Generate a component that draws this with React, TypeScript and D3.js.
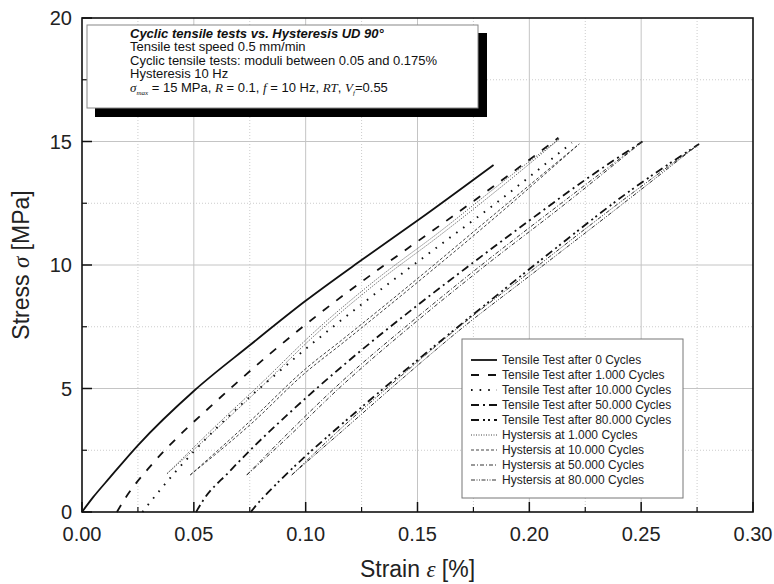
import * as d3 from "d3";

// axis ticks
const xTicks = [0, 0.05, 0.1, 0.15, 0.2, 0.25, 0.3];
const xTickLabels = ["0.00", "0.05", "0.10", "0.15", "0.20", "0.25", "0.30"];
const xMinor = [0.025, 0.075, 0.125, 0.175, 0.225, 0.275];
const yTicks = [0, 5, 10, 15, 20];
const yMinor = [2.5, 7.5, 12.5, 17.5];

// tensile tests (strain %, stress MPa)
const t0Strain = [0, 0.005, 0.0125, 0.025, 0.05, 0.075, 0.1, 0.125, 0.15, 0.184];
const t0Stress = [0, 0.6, 1.4, 2.7, 4.9, 6.75, 8.55, 10.2, 11.8, 14.05];

const t1Strain = [0.0156, 0.0193, 0.031, 0.043, 0.056, 0.07, 0.084, 0.105, 0.1345, 0.16, 0.185, 0.213];
const t1Stress = [0, 0.55, 1.9, 3.05, 4.15, 5.3, 6.4, 7.95, 9.95, 11.6, 13.25, 15.15];

const t10Strain = [0.027, 0.035, 0.05, 0.07, 0.087, 0.1, 0.127, 0.157, 0.185, 0.219];
const t10Stress = [0, 0.9, 2.45, 4.25, 5.6, 6.6, 8.55, 10.6, 12.5, 14.95];

const t50Strain = [0.051, 0.0543, 0.0655, 0.0774, 0.0938, 0.117, 0.149, 0.172, 0.2, 0.225, 0.2506];
const t50Stress = [0, 0.49, 1.6, 2.7, 4.1, 5.95, 8.3, 9.9, 11.8, 13.45, 15.0];

const t80Strain = [0.0755, 0.0774, 0.0833, 0.0893, 0.101, 0.111, 0.127, 0.152, 0.179, 0.21, 0.245, 0.2759];
const t80Stress = [0, 0.22, 0.8, 1.35, 2.35, 3.15, 4.4, 6.3, 8.3, 10.55, 13.0, 14.9];

// hysteresis loops: loading (up) and unloading (down) branches
const h1Strain = [0.038, 0.06, 0.08, 0.104, 0.13, 0.16, 0.19, 0.2134];
const h1Up = [1.55, 3.5, 5.2, 7.3, 9.3, 11.35, 13.5, 15.1];
const h1Down = [1.55, 3.35, 5.05, 7.15, 9.15, 11.2, 13.35, 15.1];

const h10Strain = [0.0484, 0.076, 0.1, 0.116, 0.15, 0.185, 0.2223];
const h10Up = [1.5, 3.75, 5.8, 6.95, 9.45, 12.1, 14.9];
const h10Down = [1.5, 3.6, 5.65, 6.8, 9.3, 11.95, 14.9];

const h50Strain = [0.0737, 0.09, 0.116, 0.15, 0.18, 0.215, 0.2506];
const h50Up = [1.5, 3.0, 5.27, 7.9, 10.1, 12.55, 15.0];
const h50Down = [1.5, 2.85, 5.1, 7.75, 9.95, 12.4, 15.0];

const h80Strain = [0.0938, 0.116, 0.14, 0.17, 0.2, 0.24, 0.2759];
const h80Up = [1.5, 3.4, 5.3, 7.6, 9.7, 12.5, 14.9];
const h80Down = [1.5, 3.25, 5.15, 7.45, 9.55, 12.35, 14.9];

const legendLabels = [
  "Tensile Test after 0 Cycles",
  "Tensile Test after 1.000 Cycles",
  "Tensile Test after 10.000 Cycles",
  "Tensile Test after 50.000 Cycles",
  "Tensile Test after 80.000 Cycles",
  "Hystersis at 1.000 Cycles",
  "Hystersis at 10.000 Cycles",
  "Hystersis at 50.000 Cycles",
  "Hystersis at 80.000 Cycles",
];

const W = 774;
const H = 584;
const left = 82, right = 753, top = 18, bottom = 512;

const x = d3.scaleLinear().domain([0, 0.3]).range([left, right]);
const y = d3.scaleLinear().domain([0, 20]).range([bottom, top]);

const styles = [
  { dash: "", w: 1.8, c: "#111" },
  { dash: "8,9", w: 1.8, c: "#111" },
  { dash: "1.6,7", w: 1.9, c: "#111" },
  { dash: "8,4,2,4", w: 1.8, c: "#111" },
  { dash: "8,4,2,3,2,4", w: 1.8, c: "#111" },
  { dash: "1,1.5", w: 1, c: "#444" },
  { dash: "3,2", w: 1, c: "#444" },
  { dash: "4,2,1,2", w: 1, c: "#333" },
  { dash: "4,1.5,1,1.5,1,1.5", w: 1, c: "#333" },
];

const line = d3
  .line<[number, number]>()
  .x((d) => x(d[0]))
  .y((d) => y(d[1]))
  .curve(d3.curveMonotoneX);

const zip = (a: number[], b: number[]) => a.map((v, i) => [v, b[i]] as [number, number]);

const paths = [
  { s: 0, d: zip(t0Strain, t0Stress) },
  { s: 1, d: zip(t1Strain, t1Stress) },
  { s: 2, d: zip(t10Strain, t10Stress) },
  { s: 3, d: zip(t50Strain, t50Stress) },
  { s: 4, d: zip(t80Strain, t80Stress) },
  { s: 5, d: zip(h1Strain, h1Up) },
  { s: 5, d: zip(h1Strain, h1Down) },
  { s: 6, d: zip(h10Strain, h10Up) },
  { s: 6, d: zip(h10Strain, h10Down) },
  { s: 7, d: zip(h50Strain, h50Up) },
  { s: 7, d: zip(h50Strain, h50Down) },
  { s: 8, d: zip(h80Strain, h80Up) },
  { s: 8, d: zip(h80Strain, h80Down) },
];

const sans = "'Liberation Sans', Arial, sans-serif";
const serif = "'Liberation Serif', 'Times New Roman', serif";

export default function App() {
  return (
    <svg
      width={W}
      height={H}
      style={{ position: "absolute", left: 0, top: 0, background: "#fff" }}
      fontFamily={sans}
    >
      <rect x={0} y={0} width={W} height={H} fill="#fff" />
      {/* grid */}
      <g>
        {xMinor.map((t) => (
          <line key={"xm" + t} x1={x(t)} x2={x(t)} y1={top} y2={bottom} stroke="#ccc" strokeDasharray="1,2" />
        ))}
        {yMinor.map((t) => (
          <line key={"ym" + t} x1={left} x2={right} y1={y(t)} y2={y(t)} stroke="#ccc" strokeDasharray="1,2" />
        ))}
        {xTicks.slice(1, -1).map((t) => (
          <line key={"xg" + t} x1={x(t)} x2={x(t)} y1={top} y2={bottom} stroke="#c4c4c4" />
        ))}
        {yTicks.slice(1, -1).map((t) => (
          <line key={"yg" + t} x1={left} x2={right} y1={y(t)} y2={y(t)} stroke="#c4c4c4" />
        ))}
      </g>

      {/* curves */}
      <g fill="none" strokeLinejoin="round">
        {paths.map((p, i) => (
          <path
            key={i}
            d={line(p.d) || ""}
            stroke={styles[p.s].c}
            strokeWidth={styles[p.s].w}
            strokeDasharray={styles[p.s].dash || undefined}
          />
        ))}
      </g>

      {/* frame and ticks */}
      <rect x={left} y={top} width={right - left} height={bottom - top} fill="none" stroke="#111" strokeWidth={1.6} />
      {xTicks.map((t) => (
        <line key={"xt" + t} x1={x(t)} x2={x(t)} y1={bottom} y2={bottom - 10} stroke="#111" strokeWidth={1.5} />
      ))}
      {xMinor.map((t) => (
        <line key={"xmt" + t} x1={x(t)} x2={x(t)} y1={bottom} y2={bottom - 5} stroke="#111" strokeWidth={1.2} />
      ))}
      {yTicks.map((t) => (
        <line key={"yt" + t} x1={left} x2={left + 10} y1={y(t)} y2={y(t)} stroke="#111" strokeWidth={1.5} />
      ))}
      {yMinor.map((t) => (
        <line key={"ymt" + t} x1={left} x2={left + 5} y1={y(t)} y2={y(t)} stroke="#111" strokeWidth={1.2} />
      ))}

      {/* tick labels */}
      <g fontSize={20} fill="#222">
        {xTicks.map((t, i) => (
          <text key={"xl" + t} x={x(t)} y={bottom + 29} textAnchor="middle">
            {xTickLabels[i]}
          </text>
        ))}
        {yTicks.map((t) => (
          <text key={"yl" + t} x={left - 10} y={y(t) + 7} textAnchor="end">
            {t}
          </text>
        ))}
      </g>

      {/* axis titles */}
      <text x={(left + right) / 2} y={577} textAnchor="middle" fontSize={23} fill="#222">
        Strain <tspan fontFamily={serif} fontStyle="italic">ε</tspan> [%]
      </text>
      <text
        transform={`translate(29,${(top + bottom) / 2}) rotate(-90)`}
        textAnchor="middle"
        fontSize={23}
        fill="#222"
      >
        Stress <tspan fontFamily={serif} fontStyle="italic">σ</tspan> [MPa]
      </text>

      {/* info box */}
      <rect x={95} y={33} width={392} height={84} fill="#000" />
      <rect x={87} y={25} width={391} height={83} fill="#fff" stroke="#888" strokeWidth={1} />
      <g fontSize={13} fill="#111">
        <text x={130} y={37.5} fontWeight="bold" fontStyle="italic">
          Cyclic tensile tests vs. Hysteresis UD 90°
        </text>
        <text x={130} y={51}>Tensile test speed 0.5 mm/min</text>
        <text x={130} y={64.5}>Cyclic tensile tests: moduli between 0.05 and 0.175%</text>
        <text x={130} y={78}>Hysteresis 10 Hz</text>
        <text x={130} y={92}>
          <tspan fontFamily={serif} fontStyle="italic">σ</tspan>
          <tspan fontFamily={serif} fontStyle="italic" fontSize={7} dy={3}>max</tspan>
          <tspan dy={-3}> = 15 MPa, </tspan>
          <tspan fontFamily={serif} fontStyle="italic">R</tspan>
          <tspan> = 0.1, </tspan>
          <tspan fontFamily={serif} fontStyle="italic">f</tspan>
          <tspan> = 10 Hz, </tspan>
          <tspan fontFamily={serif} fontStyle="italic">RT</tspan>
          <tspan>, </tspan>
          <tspan fontFamily={serif} fontStyle="italic">V</tspan>
          <tspan fontFamily={serif} fontStyle="italic" fontSize={7} dy={3}>f</tspan>
          <tspan dy={-3}>=0.55</tspan>
        </text>
      </g>

      {/* legend */}
      <rect x={462} y={339} width={221} height={159} fill="#fff" stroke="#777" strokeWidth={1} />
      {legendLabels.map((lab, i) => {
        const ly = 360 + i * 15;
        const st = styles[i];
        return (
          <g key={lab}>
            <line
              x1={471}
              x2={497}
              y1={ly}
              y2={ly}
              stroke={st.c}
              strokeWidth={st.w}
              strokeDasharray={st.dash || undefined}
            />
            <text x={502} y={ly + 4} fontSize={12} fill="#222">
              {lab}
            </text>
          </g>
        );
      })}
    </svg>
  );
}
